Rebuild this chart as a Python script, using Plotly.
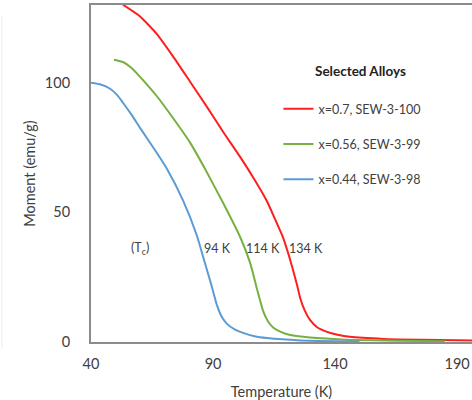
import plotly.graph_objects as go

# Magnetization vs. temperature for three alloy compositions
temp_x070 = [53.1, 60.1, 67.0, 73.6, 80.6, 87.5, 94.1, 101.1, 107.2, 112.1, 115.5, 118.7,
             121.0, 122.8, 124.5, 125.7, 127.5, 129.8, 132.5, 136.7, 141.0, 146.0,
             160.0, 175.0, 190.0, 197.0]
moment_x070 = [130.1, 125.6, 118.8, 110.2, 100.4, 90.7, 81.1, 71.4, 62.3, 54.3, 47.2, 40.3,
               33.6, 27.7, 21.7, 17.0, 12.3, 8.4, 5.8, 3.9, 2.8, 2.0,
               1.2, 0.9, 0.7, 0.6]

temp_x056 = [49.4, 53.1, 56.5, 60.1, 67.0, 73.6, 80.6, 86.7, 94.1, 101.1, 105.2, 108.0,
             110.5, 112.5, 114.6, 118.0, 121.6, 127.0, 132.6, 146.1, 165.0, 185.0]
moment_x056 = [108.9, 108.0, 105.8, 102.3, 94.8, 86.4, 76.9, 66.8, 53.7, 40.5, 30.5, 20.5,
               12.0, 8.0, 5.6, 3.8, 2.7, 2.0, 1.5, 0.8, 0.5, 0.3]

temp_x044 = [40.0, 44.0, 47.8, 50.5, 53.1, 56.5, 60.1, 67.0, 71.1, 77.7, 83.4, 85.9,
             88.0, 89.6, 91.6, 93.5, 95.7, 99.0, 102.3, 107.0, 112.1, 125.7, 150.0]
moment_x044 = [100.0, 99.3, 97.7, 95.5, 92.3, 87.8, 82.6, 72.9, 66.8, 54.6, 41.0, 33.0,
               26.2, 21.0, 14.2, 9.8, 7.0, 4.8, 3.5, 2.2, 1.5, 0.6, 0.2]

series_names = ["x=0.7, SEW-3-100", "x=0.56, SEW-3-99", "x=0.44, SEW-3-98"]
series_colors = ["#FF1E1E", "#76B041", "#5B9BD5"]

# Curie temperature labels
tc_labels = ["(T<sub>c</sub>)", "94 K", "114 K", "134 K"]
tc_label_x = [60.0, 92.0, 110.5, 128.0]
tc_label_y = [36.0, 36.0, 36.0, 36.0]

FONT = "Lato"
TEXT = "#404040"

fig = go.Figure()
for i, (tx, my) in enumerate([(temp_x070, moment_x070),
                              (temp_x056, moment_x056),
                              (temp_x044, moment_x044)]):
    fig.add_trace(go.Scatter(
        x=tx, y=my, mode="lines", name=series_names[i],
        legendgroup=f"g{i}",
        line=dict(color=series_colors[i], width=2, shape="spline", smoothing=0.5),
    ))

for txt, ax, ay in zip(tc_labels, tc_label_x, tc_label_y):
    fig.add_annotation(x=ax, y=ay, text=txt, showarrow=False,
                       font=dict(family=FONT, size=12.5, color=TEXT))

fig.update_layout(
    width=472, height=400,
    margin=dict(l=91, r=0, t=5, b=58, autoexpand=False),
    paper_bgcolor="white", plot_bgcolor="white",
    font=dict(family=FONT, color=TEXT),
    showlegend=True,
    legend=dict(
        x=0.492, y=0.84, xanchor="left", yanchor="top",
        bgcolor="rgba(0,0,0,0)",
        font=dict(family=FONT, size=12.5, color=TEXT),
        title=dict(text="&nbsp;" * 10 + "<b>Selected Alloys</b><br> ", side="top",
                   font=dict(family=FONT, size=13.5, color="#222222")),
        tracegroupgap=16,
        itemwidth=30,
    ),
    xaxis=dict(
        range=[40, 196.1], tickvals=[40, 90, 140, 190],
        showgrid=False, zeroline=False,
        showline=True, linecolor="#8C8C8C", linewidth=2, mirror=True,
        ticks="", tickfont=dict(family=FONT, size=14.5, color=TEXT),
        ticklabelstandoff=8,
        title=dict(text="Temperature (K)", standoff=15,
                   font=dict(family=FONT, size=14.5, color=TEXT)),
    ),
    yaxis=dict(
        range=[0, 130], tickvals=[0, 50, 100],
        showgrid=False, zeroline=False,
        showline=True, linecolor="#8C8C8C", linewidth=2,
        ticks="", tickfont=dict(family=FONT, size=14.5, color=TEXT),
        ticklabelstandoff=16,
        title=dict(text="Moment (emu/g)", standoff=6,
                   font=dict(family=FONT, size=14.5, color=TEXT)),
    ),
)

# faint frame edge along the left side
fig.add_shape(type="line", xref="paper", yref="paper", x0=-0.234, x1=-0.234,
              y0=-0.02, y1=0.97, line=dict(color="#EDEDED", width=1))

fig.write_html("out.html")
